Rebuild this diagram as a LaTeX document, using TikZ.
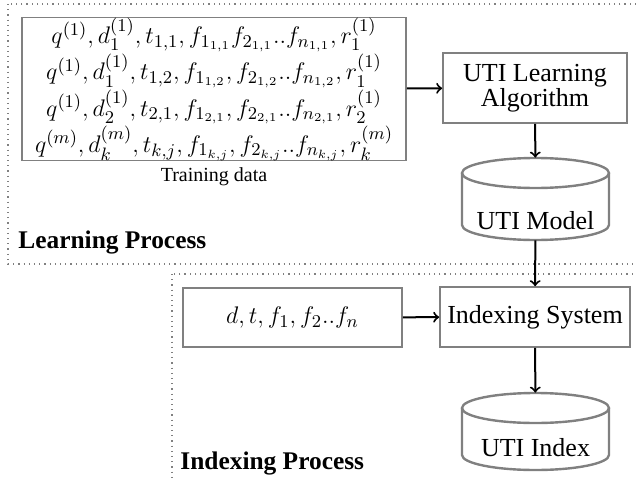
\documentclass[tikz,border=0pt]{standalone}
\usepackage{amsmath}
\usepackage{fontspec}
\setmainfont{Liberation Serif}
\usetikzlibrary{positioning}

\begin{document}
\begin{tikzpicture}[x=0.5pt, y=-0.5pt,
  region/.style={draw=gray, dotted, line width=0.6pt},
  box/.style={draw=gray, line width=0.8pt, align=center, inner sep=0pt,
    font=\fontsize{13}{12.5}\selectfont},
  db/.style={inner sep=0pt, minimum width=73.5pt, minimum height=41pt,
    font=\fontsize{13}{12.5}\selectfont, text height=30pt, text depth=0pt},
  dbline/.style={draw=gray, line width=1.2pt},
  flow/.style={->, line width=1pt},
  title/.style={font=\fontsize{12.7}{14}\selectfont\bfseries, anchor=west, inner sep=0pt}]
  \useasboundingbox (0,0) rectangle (636,481);

  % process areas
  \draw[region] (8,4) rectangle (660,264);
  \draw[region] (172,274) rectangle (660,500);

  % learning part
  \node[box, minimum width=192pt, minimum height=71pt,
    font=\fontsize{12.8}{16.6}\selectfont] (train) at (214,89)
    {$q^{(1)}, d_1^{(1)}, t_{1,1}, f_{1_{1,1}} f_{2_{1,1}}..f_{n_{1,1}}, r_1^{(1)}$\\
     $q^{(1)}, d_1^{(1)}, t_{1,2}, f_{1_{1,2}}, f_{2_{1,2}}..f_{n_{1,2}}, r_1^{(1)}$\\
     $q^{(1)}, d_2^{(1)}, t_{2,1}, f_{1_{2,1}}, f_{2_{2,1}}..f_{n_{2,1}}, r_2^{(1)}$\\
     $q^{(m)}, d_k^{(m)}, t_{k,j}, f_{1_{k,j}}, f_{2_{k,j}}..f_{n_{k,j}}, r_k^{(m)}$};
  \node[font=\fontsize{10}{12}\selectfont] (traincap) at (214,177) {Training data};
  \node[box, minimum width=92pt, minimum height=35pt] (algo) at (535,88)
    {UTI Learning\\Algorithm};
  \node[db] (model) at (535.5,199) {UTI Model};
  \draw[dbline] (462,173) -- (462,225) arc[start angle=180, end angle=0, x radius=73.5, y radius=15] -- (609,173);
  \draw[dbline] (535.5,173) ellipse[x radius=73.5, y radius=15];
  \node[title] (learn) at (18,242) {Learning Process};

  % indexing part
  \node[box, minimum width=109.5pt, minimum height=29.5pt] (input) at (292.5,317.5)
    {$d, t, f_1, f_2..f_n$};
  \node[box, minimum width=95pt, minimum height=30pt] (indexer) at (535,317)
    {Indexing System};
  \node[db, minimum height=38.5pt, text height=25pt] (index) at (535.5,431.5) {UTI Index};
  \draw[dbline] (462,408) -- (462,455) arc[start angle=180, end angle=0, x radius=73.5, y radius=15] -- (609,408);
  \draw[dbline] (535.5,408) ellipse[x radius=73.5, y radius=15];
  \node[title] (indexing) at (180,463) {Indexing Process};

  % flow
  \draw[flow] (train) -- (algo);
  \draw[flow] (algo) -- (model);
  \draw[flow] (model) -- (indexer);
  \draw[flow] (input) -- (indexer);
  \draw[flow] (indexer) -- (index);
\end{tikzpicture}
\end{document}
